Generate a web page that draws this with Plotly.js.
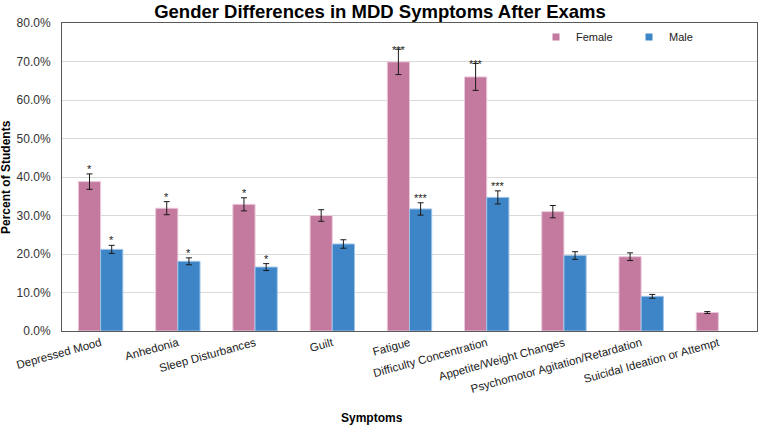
<!DOCTYPE html>
<html>
<head>
<meta charset="utf-8">
<script src="https://cdn.plot.ly/plotly-3.0.1.min.js"></script>
<style>html,body{margin:0;padding:0;background:#fff;}#chart{width:760px;height:427px;}</style>
</head>
<body>
<div id="chart"></div>
<script>
const symptoms = ["Depressed Mood", "Anhedonia", "Sleep Disturbances", "Guilt", "Fatigue",
  "Difficulty Concentration", "Appetite/Weight Changes", "Psychomotor Agitation/Retardation",
  "Suicidal Ideation or Attempt"];
const femalePct = [38.8, 31.9, 32.9, 30.0, 69.9, 66.0, 31.0, 19.3, 4.8];
const femaleErr = [2.0, 1.7, 1.7, 1.5, 3.3, 3.5, 1.6, 1.0, 0.25];
const malePct = [21.2, 18.1, 16.6, 22.6, 31.7, 34.7, 19.6, 9.0, null];
const maleErr = [1.05, 0.9, 0.9, 1.1, 1.6, 1.7, 1.0, 0.5, null];
const femaleSig = ["*", "*", "*", "", "***", "***", "", "", ""];
const maleSig = ["*", "*", "*", "", "***", "***", "", "", ""];

const FEMALE = "#C4799F", MALE = "#3D85C6";
const FONT = "Liberation Sans, Arial, sans-serif";

const traces = [
  {type: "bar", name: "Female", x: symptoms, y: femalePct, showlegend: false,
   marker: {color: FEMALE, line: {color: "#EBCADB", width: 1}},
   error_y: {type: "data", array: femaleErr, visible: true, color: "#1a1a1a", thickness: 1, width: 3}},
  {type: "bar", name: "Male", x: symptoms, y: malePct, showlegend: false,
   marker: {color: MALE, line: {color: "#9CC3E8", width: 1}},
   error_y: {type: "data", array: maleErr, visible: true, color: "#1a1a1a", thickness: 1, width: 3}},
  {type: "scatter", mode: "markers", name: "Female", x: [null], y: [null],
   marker: {symbol: "square", size: 7, color: FEMALE}},
  {type: "scatter", mode: "markers", name: "Male", x: [null], y: [null],
   marker: {symbol: "square", size: 7, color: MALE}}
];

const annotations = [];
symptoms.forEach((s, i) => {
  if (femaleSig[i]) annotations.push({x: s, y: femalePct[i] + femaleErr[i], xref: "x", yref: "y",
    text: femaleSig[i], showarrow: false, xshift: -11, yshift: femaleSig[i].length > 1 ? -9 : -3, yanchor: "bottom",
    font: {family: FONT, size: 11, color: "#222"}});
  if (maleSig[i]) annotations.push({x: s, y: malePct[i] + maleErr[i], xref: "x", yref: "y",
    text: maleSig[i], showarrow: false, xshift: 11, yshift: -3, yanchor: "bottom",
    font: {family: FONT, size: 11, color: "#222"}});
});
annotations.push({text: "<b>Symptoms</b>", xref: "paper", yref: "paper", x: (372 - 62) / 695, y: -87 / 308,
  xanchor: "center", yanchor: "middle", showarrow: false, font: {family: FONT, size: 12, color: "#000"}});
annotations.push({text: "<b>Percent of Students</b>", xref: "paper", yref: "paper", x: (6 - 62) / 695, y: 0.5,
  textangle: -90, xanchor: "center", yanchor: "middle", showarrow: false, font: {family: FONT, size: 12, color: "#000"}});

const layout = {
  width: 760, height: 427, autosize: false,
  margin: {l: 62, r: 3, t: 23, b: 96},
  paper_bgcolor: "#fff", plot_bgcolor: "#fff",
  font: {family: FONT, color: "#222"},
  title: {text: "<b>Gender Differences in MDD Symptoms After Exams</b>", x: 0.5, xanchor: "center",
    y: 1 - 12 / 427, yanchor: "middle", yref: "container", automargin: false,
    font: {family: FONT, size: 18.5, color: "#000"}},
  barmode: "group", bargap: 0.425, bargroupgap: 0,
  xaxis: {type: "category", tickangle: -15.5, tickfont: {family: FONT, size: 11.5, color: "#222"},
    showline: true, linecolor: "#595959", linewidth: 1, mirror: true, showgrid: false, ticks: "",
    ticklabelstandoff: 0, ticklabelshift: 0, automargin: false},
  yaxis: {range: [0, 80], dtick: 10, tickformat: ".1f", ticksuffix: "%",
    tickfont: {family: FONT, size: 12, color: "#333"}, showline: true, linecolor: "#595959", linewidth: 1,
    mirror: true, showgrid: true, gridcolor: "#D9D9D9", gridwidth: 1, zeroline: false, ticks: "",
    ticklabelstandoff: 8, automargin: false},
  legend: {orientation: "h", x: (536 - 62) / 695, y: 1 - (37 - 23) / 308, xanchor: "left", yanchor: "middle",
    entrywidth: 48, entrywidthmode: "pixels", font: {family: FONT, size: 11, color: "#222"},
    bgcolor: "rgba(0,0,0,0)", itemwidth: 30},
  annotations: annotations
};

Plotly.newPlot("chart", traces, layout, {staticPlot: true, displayModeBar: false});
</script>
</body>
</html>
